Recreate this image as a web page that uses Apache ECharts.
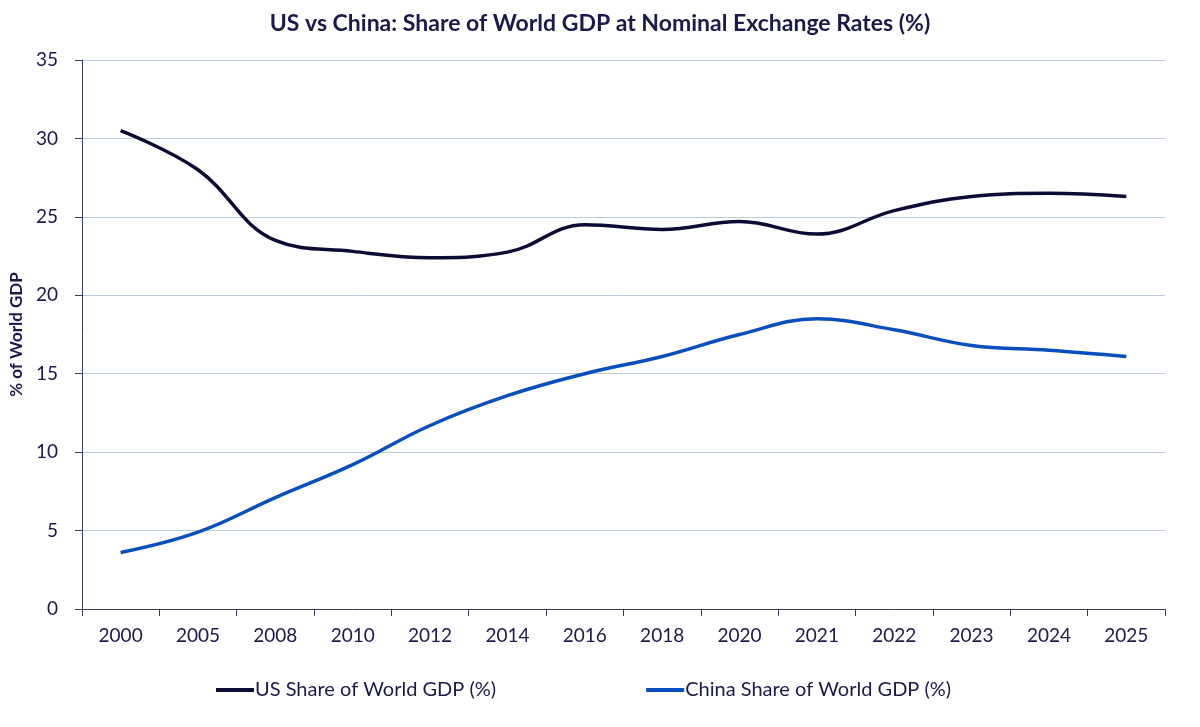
<!DOCTYPE html>
<html lang="en">
<head>
    <meta charset="UTF-8">
    <title>US vs China: Share of World GDP</title>
    <script src="https://cdn.jsdelivr.net/npm/echarts@6/dist/echarts.min.js"></script>
    <style>
        html, body { margin: 0; padding: 0; background: #fff; }
        #main { width: 1200px; height: 727px; }
    </style>
</head>
<body>
<div id="main"></div>
<script type="text/javascript">

    const years = ['2000', '2005', '2008', '2010', '2012', '2014', '2016', '2018', '2020', '2021', '2022', '2023', '2024', '2025']
    const usShare = [30.5, 28.0, 23.5, 22.8, 22.4, 22.75, 24.5, 24.2, 24.7, 23.9, 25.4, 26.3, 26.5, 26.3]
    const chinaShare = [3.6, 4.9, 7.1, 9.2, 11.7, 13.6, 15.0, 16.1, 17.5, 18.5, 17.8, 16.8, 16.5, 16.1]

    const textColor = '#1b1a4a'
    const font = 'Lato'

    let chart = echarts.init(document.getElementById('main'))

    chart.setOption({
        animation: false,
        title: {
            text: 'US vs China: Share of World GDP at Nominal Exchange Rates (%)',
            left: 'center',
            top: 7,
            textStyle: { fontFamily: font, fontSize: 23, fontWeight: 'bold', color: textColor }
        },
        grid: { left: 79, right: 35, top: 60, bottom: 118 },
        legend: {
            bottom: 22,
            left: 211,
            itemGap: 150,
            itemWidth: 38,
            itemHeight: 4,
            icon: 'rect',
            textStyle: { fontFamily: font, fontSize: 20, color: textColor, padding: [0, 0, 0, -4] },
            data: ['US Share of World GDP (%)', 'China Share of World GDP (%)']
        },
        xAxis: {
            type: 'category',
            data: years,
            boundaryGap: true,
            axisLine: { lineStyle: { color: '#3b3a66', width: 1 } },
            axisTick: { show: true, length: 7, lineStyle: { color: '#3b3a66' } },
            axisLabel: { fontFamily: font, fontSize: 19, color: textColor, margin: 17 }
        },
        yAxis: {
            type: 'value',
            min: 0,
            max: 35,
            interval: 5,
            name: '% of World GDP',
            nameLocation: 'middle',
            nameGap: 56,
            nameTextStyle: { fontFamily: font, fontSize: 17, fontWeight: 'bold', color: textColor },
            axisLine: { show: true, lineStyle: { color: '#3b3a66', width: 1 } },
            axisTick: { show: true, length: 7, lineStyle: { color: '#3b3a66' } },
            axisLabel: { fontFamily: font, fontSize: 19, color: textColor, margin: 24 },
            splitLine: { lineStyle: { color: '#bccbdc', width: 1 } }
        },
        series: [
            {
                name: 'US Share of World GDP (%)',
                type: 'line',
                data: usShare,
                smooth: 0.4,
                symbol: 'none',
                lineStyle: { width: 3.5, color: '#0c0b36' },
                itemStyle: { color: '#0c0b36' }
            },
            {
                name: 'China Share of World GDP (%)',
                type: 'line',
                data: chinaShare,
                smooth: 0.4,
                symbol: 'none',
                lineStyle: { width: 3.5, color: '#0a4fbd' },
                itemStyle: { color: '#0a4fbd' }
            }
        ]
    })

</script>
</body>
</html>
